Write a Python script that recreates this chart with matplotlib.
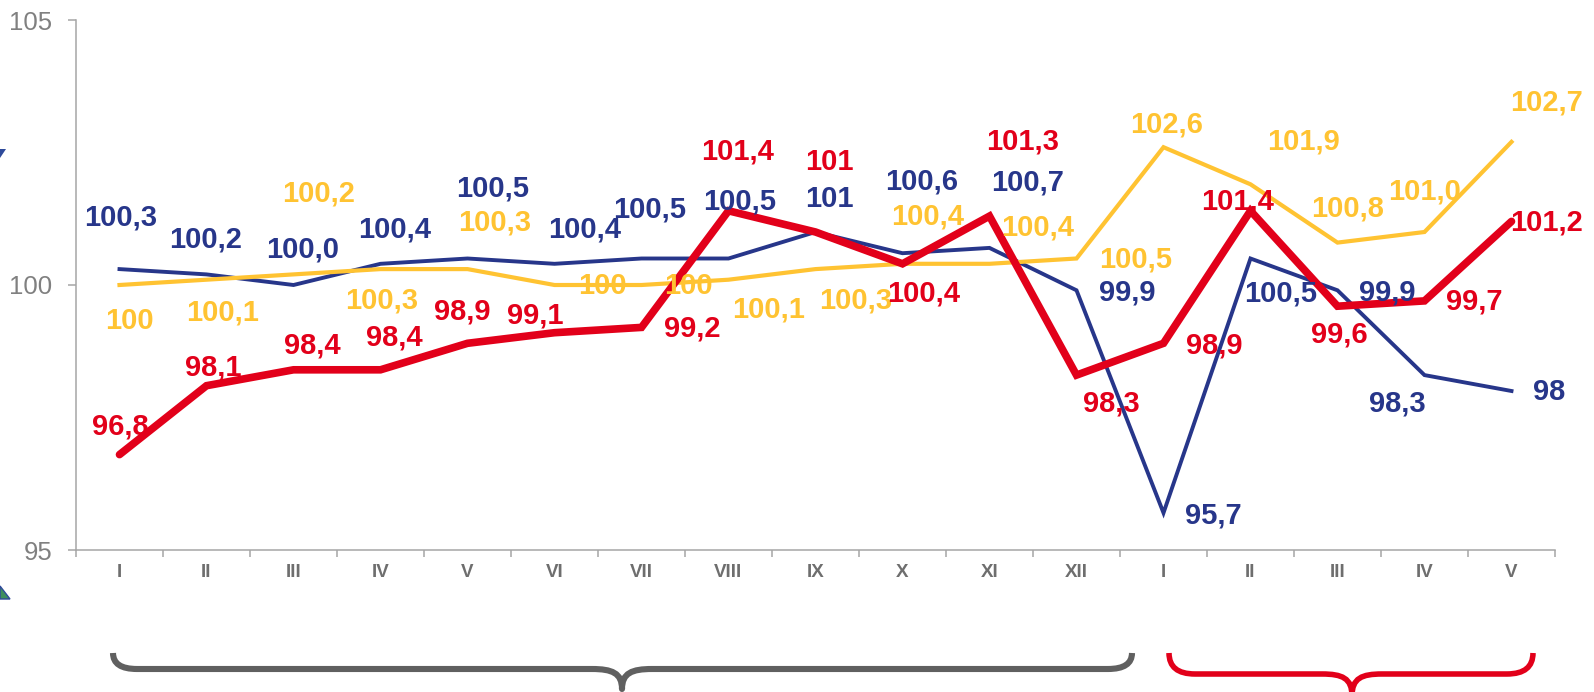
import matplotlib
matplotlib.use('Agg')
import matplotlib.pyplot as plt
import numpy as np
from matplotlib.path import Path
from matplotlib.patches import PathPatch, Polygon

# ---------------- data ----------------
months = ['I', 'II', 'III', 'IV', 'V', 'VI', 'VII', 'VIII', 'IX', 'X', 'XI', 'XII',
          'I', 'II', 'III', 'IV', 'V']
navy_vals = [100.3, 100.2, 100.0, 100.4, 100.5, 100.4, 100.5, 100.5, 101.0, 100.6,
             100.7, 99.9, 95.7, 100.5, 99.9, 98.3, 98.0]
navy_text = ['100,3', '100,2', '100,0', '100,4', '100,5', '100,4', '100,5', '100,5', '101',
             '100,6', '100,7', '99,9', '95,7', '100,5', '99,9', '98,3', '98']
yellow_vals = [100.0, 100.1, 100.2, 100.3, 100.3, 100.0, 100.0, 100.1, 100.3, 100.4,
               100.4, 100.5, 102.6, 101.9, 100.8, 101.0, 102.7]
yellow_text = ['100', '100,1', '100,2', '100,3', '100,3', '100', '100', '100,1', '100,3',
               '100,4', '100,4', '100,5', '102,6', '101,9', '100,8', '101,0', '102,7']
red_vals = [96.8, 98.1, 98.4, 98.4, 98.9, 99.1, 99.2, 101.4, 101.0, 100.4, 101.3, 98.3,
            98.9, 101.4, 99.6, 99.7, 101.2]
red_text = ['96,8', '98,1', '98,4', '98,4', '98,9', '99,1', '99,2', '101,4', '101', '100,4',
            '101,3', '98,3', '98,9', '101,4', '99,6', '99,7', '101,2']
y_ticks = [95, 100, 105]

# ---------------- layout (label offsets in pixels, y downwards) ----------------
navy_off = [(1, -52), (-1, -35), (9, -36), (14, -34), (25, -70), (30, -34), (8, -49),
            (11, -57), (14, -33), (19, -72), (38, -65), (51, 2), (50, 3), (30, 35),
            (50, 2), (-27, 28), (38, 1)]
yellow_off = [(10, 36), (16, 33), (25, -81), (1, 31), (27, -47), (48, 1), (47, 1),
              (40, 30), (40, 31), (25, -47), (48, -36), (59, 1), (3, -23), (53, -43),
              (10, -34), (0, -41), (35, -39)]
red_off = [(1, -28), (7, -18), (19, -24), (14, -32), (-5, -32), (-19, -17), (51, 1),
           (9, -59), (14, -70), (21, 30), (33, -75), (35, 28), (51, 2), (-13, -9),
           (2, 28), (50, 1), (35, 1)]

NAVY = '#27368A'
YELLOW = '#FFC332'
RED = '#E2001A'
AXIS = '#A6A6A6'

W, H = 1594, 692
fig = plt.figure(figsize=(W / 100, H / 100), dpi=100)
fig.patch.set_facecolor('white')

# overlay for decorative braces
ov = fig.add_axes([0, 0, 1, 1], zorder=0)
ov.set_xlim(0, W)
ov.set_ylim(H, 0)
ov.axis('off')


def brace(x0, x1, xm, ytop, yh, ytip, r, color, lw):
    verts = [(x0, ytop), (x0, yh), (x0 + r, yh),
             (xm - 30, yh),
             (xm - 10, yh), (xm, yh + 4), (xm, ytip),
             (xm, yh + 4), (xm + 10, yh), (xm + 30, yh),
             (x1 - r, yh),
             (x1, yh), (x1, ytop)]
    codes = [Path.MOVETO, Path.CURVE3, Path.CURVE3,
             Path.LINETO,
             Path.CURVE4, Path.CURVE4, Path.CURVE4,
             Path.CURVE4, Path.CURVE4, Path.CURVE4,
             Path.LINETO,
             Path.CURVE3, Path.CURVE3]
    ov.add_patch(PathPatch(Path(verts, codes), fill=False, edgecolor=color,
                           lw=lw, capstyle='butt', joinstyle='round'))


brace(113, 1132, 622, 653, 669, 689, 24, '#606060', 4.4)
brace(1169, 1533, 1352, 653, 674, 696, 26, RED, 4.0)

# small decorative triangles at left edge
ov.add_patch(Polygon([(0, 149), (6, 149), (0, 158)], closed=True,
                     facecolor='#2E4A9A', edgecolor='none'))
ov.add_patch(Polygon([(0, 586), (10, 599), (0, 599)], closed=True,
                     facecolor='#3E8E5E', edgecolor='#2E4A9A', lw=1))

# main chart
ax = fig.add_axes([76 / W, (H - 550) / H, (1555 - 76) / W, 530 / H], zorder=1)
ax.set_facecolor('none')
x = np.arange(len(months))

ax.plot(x, navy_vals, color=NAVY, lw=2.8, solid_joinstyle='miter', zorder=3)
ax.plot(x, yellow_vals, color=YELLOW, lw=3.0, solid_joinstyle='miter', zorder=4)
ax.plot(x, red_vals, color=RED, lw=5.5, solid_capstyle='round',
        solid_joinstyle='miter', zorder=5)

lab_font = dict(family='Liberation Sans', weight='bold', size=21)
for vals, texts, offs, col in [(navy_vals, navy_text, navy_off, NAVY),
                               (yellow_vals, yellow_text, yellow_off, YELLOW),
                               (red_vals, red_text, red_off, RED)]:
    for i, (v, t, (dx, dy)) in enumerate(zip(vals, texts, offs)):
        ax.annotate(t, xy=(i, v), xytext=(dx, -dy), textcoords='offset pixels',
                    ha='center', va='center', color=col, zorder=6,
                    annotation_clip=False, **lab_font)

ax.set_xlim(-0.5, len(months) - 0.5)
ax.set_ylim(95, 105)
ax.set_yticks(y_ticks)
ax.set_yticklabels([str(t) for t in y_ticks], family='Liberation Sans', size=18.5,
                   color='#808080')
ax.set_xticks(x)
ax.set_xticklabels(months, family='Liberation Sans', weight='bold', size=13.5,
                   color='#6E6E6E')
ax.set_xticks(np.arange(-0.5, len(months), 1), minor=True)
ax.tick_params(axis='x', which='major', length=0, pad=10)
ax.tick_params(axis='x', which='minor', length=5, width=1.1, color=AXIS, direction='out')
ax.tick_params(axis='y', length=6, width=1.1, color=AXIS, direction='out', pad=11)

for s in ['top', 'right']:
    ax.spines[s].set_visible(False)
for s in ['left', 'bottom']:
    ax.spines[s].set_color(AXIS)
    ax.spines[s].set_linewidth(1.1)

fig.savefig('out.png', dpi=100, facecolor='white')
